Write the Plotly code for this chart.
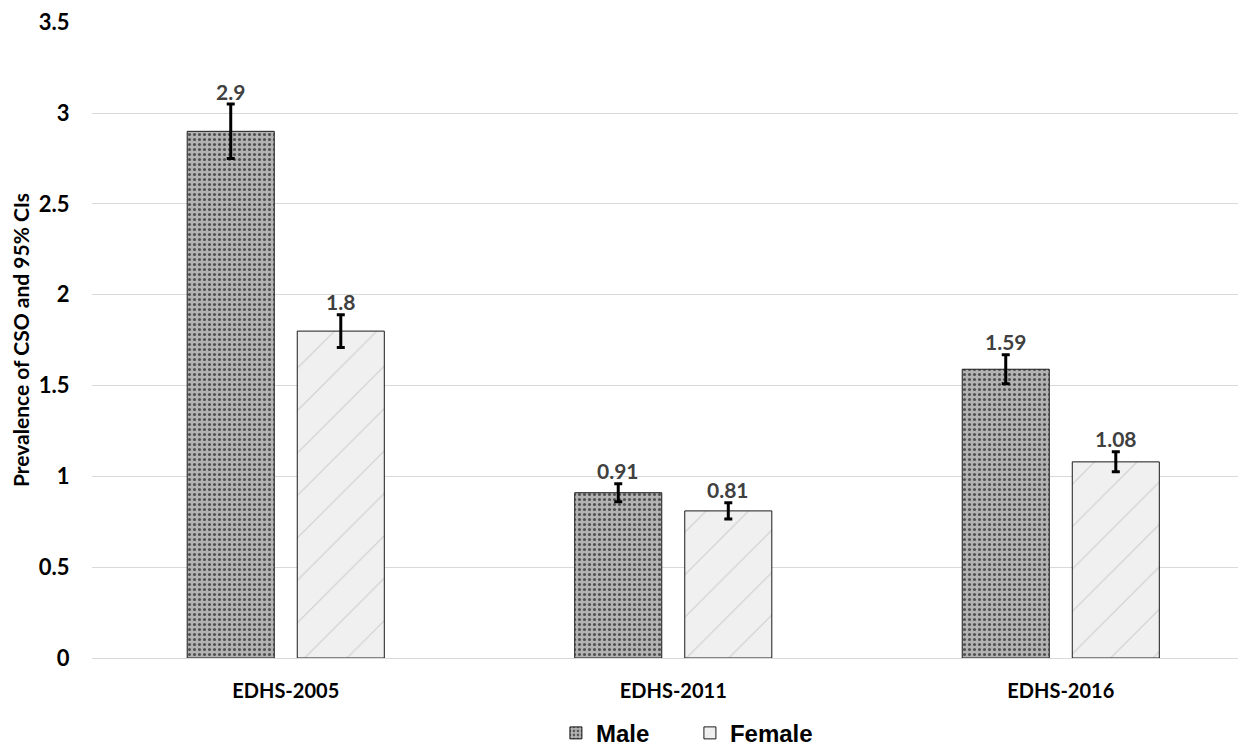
import plotly.graph_objects as go

categories = ["EDHS-2005", "EDHS-2011", "EDHS-2016"]
male = [2.9, 0.91, 1.59]
female = [1.8, 0.81, 1.08]
male_err = [0.15, 0.05, 0.08]
female_err = [0.09, 0.045, 0.055]
y_ticks = [0, 0.5, 1, 1.5, 2, 2.5, 3, 3.5]
y_ticktext = ["0", "0.5", "1", "1.5", "2", "2.5", "3", "3.5"]

fig = go.Figure()
fig.add_trace(go.Bar(
    name="Male", x=categories, y=male,
    error_y=dict(type="data", array=male_err, color="#000000", thickness=3, width=4),
    marker=dict(color="#9a9a9a", line=dict(color="#1a1a1a", width=1),
                pattern=dict(shape=".", size=5, solidity=0.3, fgcolor="#505050", bgcolor="#b3b3b3", fillmode="replace")),
))
fig.add_trace(go.Bar(
    name="Female", x=categories, y=female,
    error_y=dict(type="data", array=female_err, color="#000000", thickness=3, width=4),
    marker=dict(color="#ebebeb", line=dict(color="#1a1a1a", width=1),
                pattern=dict(shape="/", size=30, solidity=0.04, fgcolor="#cfcfcf", bgcolor="#f0f0f0", fillmode="replace")),
))

label_font = dict(family="Lato, Open Sans, sans-serif", size=21, color="#404040")
for vals, errs, off in [(male, male_err, -0.142), (female, female_err, 0.142)]:
    for i, (v, e) in enumerate(zip(vals, errs)):
        fig.add_annotation(x=i + off, y=v + e, text=f"<b>{v:g}</b>", showarrow=False,
                           xref="x", yref="y", yanchor="middle", yshift=13, font=label_font)

# page body adds an 8px offset; figure sized/margined to compensate
fig.update_layout(
    width=1238, height=741,
    paper_bgcolor="white", plot_bgcolor="white",
    margin=dict(l=84, r=0, t=14, b=91, autoexpand=False),
    barmode="group", bargap=0.432, bargroupgap=0.209,
    showlegend=True,
    legend=dict(orientation="h", x=0.402, xanchor="left", y=-0.083, yanchor="top",
                font=dict(family="Liberation Sans, Arial, sans-serif", size=24, color="#000000", weight="bold"),
                itemwidth=30, entrywidth=89, entrywidthmode="pixels", traceorder="normal"),
    font=dict(family="Lato, Open Sans, sans-serif", color="#000000"),
)
fig.update_xaxes(
    type="category", range=[-0.5, 2.478], automargin=False,
    tickfont=dict(family="Lato, Open Sans, sans-serif", size=20, color="#000000", weight="bold"),
    ticks="outside", ticklen=15, tickcolor="rgba(0,0,0,0)",
    showline=False, showgrid=False, zeroline=False,
)
fig.update_yaxes(
    range=[0, 3.502], tickvals=y_ticks, ticktext=y_ticktext, automargin=False,
    tickfont=dict(family="Lato, Open Sans, sans-serif", size=22, color="#000000", weight="bold"),
    ticks="outside", ticklen=17, tickcolor="rgba(0,0,0,0)",
    showgrid=True, gridcolor="#d9d9d9", gridwidth=1,
    zeroline=True, zerolinecolor="#d9d9d9", zerolinewidth=1,
    showline=False,
    title=dict(text="<b>Prevalence of CSO and 95% CIs</b>", standoff=10,
               font=dict(family="Lato, Open Sans, sans-serif", size=21, color="#000000")),
)
fig.write_html("out.html")
